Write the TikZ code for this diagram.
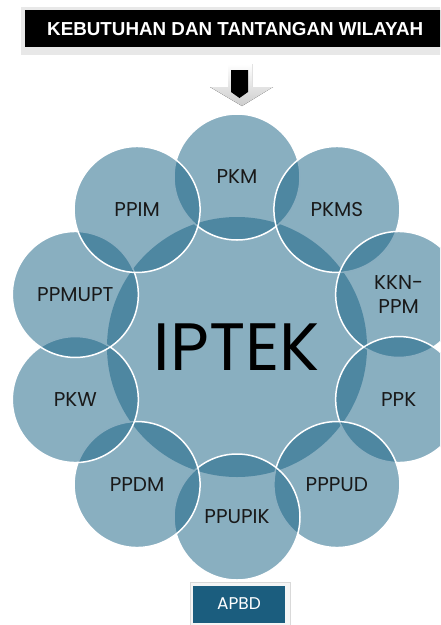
\documentclass[tikz,border=0pt]{standalone}
\usepackage{fontspec}
\setmainfont{Poppins}
\newfontfamily\bannerfont{Liberation Sans}

\definecolor{ringblue}{RGB}{20,95,130}
\definecolor{fundblue}{RGB}{27,93,126}

\tikzset{
  ring/.style={circle,minimum size=126pt,inner sep=0pt,align=center,
    fill=ringblue,fill opacity=0.5,text opacity=1,draw=white,line width=1.5pt,
    text=black!90,font=\fontsize{20}{24}\selectfont},
  core/.style={circle,minimum size=260pt,inner sep=0pt,
    fill=ringblue,fill opacity=0.5,text opacity=1,
    font=\fontsize{67}{67}\selectfont},
}

\begin{document}
\begin{tikzpicture}[x=1pt,y=-1pt]
\useasboundingbox (0,0) rectangle (440,625);
\clip (0,0) rectangle (440,625);

%draws the banner at the top
\fill[gray!18] (21,7) rectangle (445,55);
\node[fill=black,text=white,anchor=north west,minimum width=420pt,minimum height=37pt,
  font=\bannerfont\bfseries\fontsize{18.8}{20}\selectfont] (need) at (25,10)
  {KEBUTUHAN DAN TANTANGAN WILAYAH};

%draws the arrow under the banner
\fill[top color=white,bottom color=gray!40] (228,64) -- (252,64) -- (252,87) -- (273,87)
  -- (242,106) -- (210,87) -- (228,87) -- cycle;
\fill[black] (231,70) -- (248,70) -- (248,92) -- (239.5,98) -- (231,92) -- cycle;

%draws the big circle and the ring of small circles
\node[core] (iptek) at (237,347) {IPTEK};
\foreach \lab [count=\i from 0] in {PKM,PKMS,{KKN-\\PPM},PPK,PPPUD,PPUPIK,PPDM,PKW,PPMUPT,PPIM}
    \path (iptek) ++(270+36*\i:170) node[ring] (r\i) {\lab};

%draws the box at the bottom
\draw[gray!30,fill=gray!8] (190,582) rectangle (290,626);
\node[fill=fundblue,text=white,minimum width=92pt,minimum height=37pt,
  font=\fontsize{17}{19}\selectfont] (fund) at (239,604) {APBD};

\end{tikzpicture}
\end{document}
